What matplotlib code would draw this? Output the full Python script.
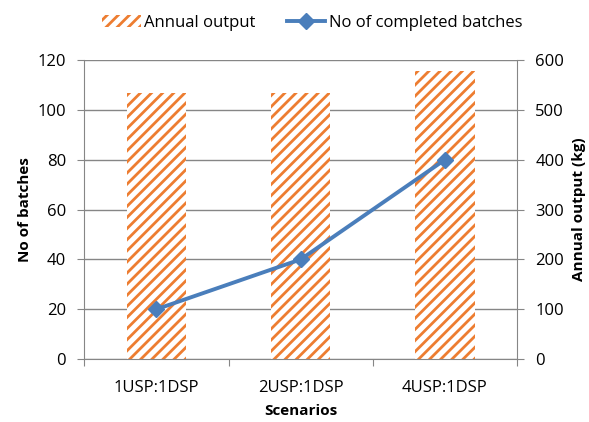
import matplotlib
matplotlib.use("Agg")
import matplotlib.pyplot as plt
import numpy as np

# ── data ──────────────────────────────────────────────────────────────────────
scenarios = ["1USP:1DSP", "2USP:1DSP", "4USP:1DSP"]
batches = [20, 40, 80]             # no of completed batches (left axis)
annual_output = [533, 533, 577]    # kg (right axis)

ORANGE = "#ED7D31"
BLUE = "#4A7EBB"
GREY = "#868686"

plt.rcParams["font.family"] = ["Open Sans", "DejaVu Sans"]
plt.rcParams["font.size"] = 12
plt.rcParams["hatch.linewidth"] = 2.0

LABEL_KW = dict(fontweight="bold", fontsize=11)

fig = plt.figure(figsize=(5.89, 4.22), dpi=100)
ax2 = fig.add_axes([0.143, 0.149, 0.735, 0.709])    # right axis: bars + grid
ax = fig.add_axes(ax2.get_position(), sharex=ax2)   # left axis: line on top
ax.patch.set_visible(False)

x = np.arange(len(scenarios))

# ── bars (annual output) ──────────────────────────────────────────────────────
bars = ax2.bar(x, annual_output, width=0.41, facecolor="white",
               edgecolor=ORANGE, linewidth=0, hatch="///",
               label="Annual output", zorder=2)
ax2.set_ylim(0, 600)
ax2.set_yticks(np.arange(0, 601, 100))
ax2.yaxis.tick_right()
ax2.yaxis.set_label_position("right")
ax2.set_ylabel("Annual output (kg)", labelpad=6, **LABEL_KW)
ax2.grid(axis="y", color=GREY, linewidth=1.0)
ax2.set_axisbelow(True)

# ── line (completed batches) ──────────────────────────────────────────────────
line, = ax.plot(x, batches, color=BLUE, linewidth=2.8, marker="D",
                markersize=8, label="No of completed batches", zorder=3)
ax.set_ylim(0, 120)
ax.set_yticks(np.arange(0, 121, 20))
ax.set_ylabel("No of batches", labelpad=4, **LABEL_KW)

# category boundaries get the tick marks, names sit in between
ax2.set_xlim(-0.5, 2.5)
ax2.set_xticks([-0.5, 0.5, 1.5, 2.5])
ax2.set_xticklabels([])
ax2.set_xticks(x, minor=True)
ax2.set_xticklabels(scenarios, minor=True)
ax2.tick_params(axis="x", which="minor", length=0, pad=15)
ax2.tick_params(axis="x", which="major", length=5, color=GREY)
ax2.set_xlabel("Scenarios", labelpad=6, **LABEL_KW)
ax.tick_params(axis="x", which="both", bottom=False, labelbottom=False)

for a in (ax, ax2):
    a.spines["top"].set_visible(False)
    for s in a.spines.values():
        s.set_color(GREY)
ax.spines["right"].set_visible(False)
ax.spines["bottom"].set_visible(False)
ax2.spines["left"].set_visible(False)
ax.tick_params(axis="y", length=5, color=GREY, pad=8)
ax2.tick_params(axis="y", length=5, color=GREY, pad=8)

fig.legend([bars, line], ["Annual output", "No of completed batches"],
           loc="upper center", bbox_to_anchor=(0.53, 1.0), ncol=2,
           frameon=False, handlelength=2.3, columnspacing=1.9,
           handletextpad=0.2)

fig.savefig("out.png", dpi=100)
